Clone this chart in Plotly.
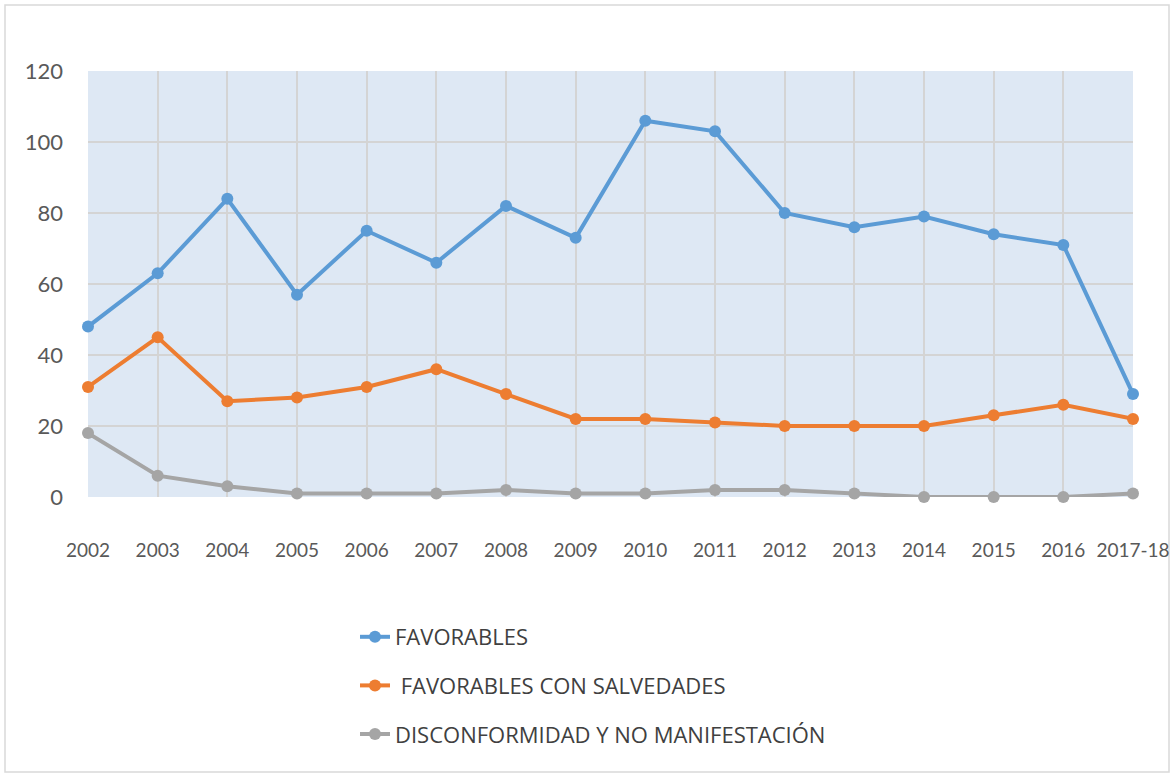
import plotly.graph_objects as go

years = ["2002", "2003", "2004", "2005", "2006", "2007", "2008", "2009",
         "2010", "2011", "2012", "2013", "2014", "2015", "2016", "2017-18"]
favorables = [48, 63, 84, 57, 75, 66, 82, 73, 106, 103, 80, 76, 79, 74, 71, 29]
con_salvedades = [31, 45, 27, 28, 31, 36, 29, 22, 22, 21, 20, 20, 20, 23, 26, 22]
disconformidad = [18, 6, 3, 1, 1, 1, 2, 1, 1, 2, 2, 1, 0, 0, 0, 1]

series_names = ["FAVORABLES", " FAVORABLES CON SALVEDADES", "DISCONFORMIDAD Y NO MANIFESTACIÓN"]
series_values = [favorables, con_salvedades, disconformidad]
series_colors = ["#5B9BD5", "#ED7D31", "#A5A5A5"]
y_ticks = [0, 20, 40, 60, 80, 100, 120]

W, H = 1171, 773
ml, mr, mt, mb = 88, 38, 71, 276

fig = go.Figure()
for i, (name, vals, col) in enumerate(zip(series_names, series_values, series_colors)):
    fig.add_trace(go.Scatter(
        x=years, y=vals, name=name, mode="lines+markers",
        line=dict(color=col, width=4),
        marker=dict(color=col, size=12),
        legendgroup=f"g{i}",
        cliponaxis=False,
    ))

pw = W - ml - mr
ph = H - mt - mb
def px_x(p):
    return (p - ml) / pw
def px_y(p):
    return (H - mb - p) / ph

fig.add_shape(type="rect", xref="paper", yref="paper",
              x0=px_x(5), x1=px_x(1169), y0=px_y(772), y1=px_y(5),
              line=dict(color="#D9D9D9", width=1.5), fillcolor="rgba(0,0,0,0)",
              layer="below")

fig.update_layout(
    width=W, height=H,
    margin=dict(l=ml, r=mr, t=mt, b=mb, autoexpand=False),
    paper_bgcolor="white",
    plot_bgcolor="#DEE8F4",
    font=dict(family="Lato, 'Open Sans', sans-serif", color="#595959"),
    showlegend=True,
    legend=dict(
        orientation="v", x=px_x(355), y=px_y(616), xanchor="left", yanchor="top",
        font=dict(size=22, color="#404040", family="'Open Sans', Lato, sans-serif"),
        tracegroupgap=17,
        bgcolor="rgba(0,0,0,0)",
    ),
    xaxis=dict(
        type="category", range=[0, len(years) - 1],
        showgrid=True, gridcolor="#D4D4D4", gridwidth=1.5,
        showline=False, zeroline=False, ticks="",
        tickfont=dict(size=19, color="#595959"),
        ticklabelstandoff=40, automargin=False,
    ),
    yaxis=dict(
        range=[0, 120], tickvals=y_ticks,
        showgrid=True, gridcolor="#D4D4D4", gridwidth=1.5,
        zeroline=False, showline=False, ticks="",
        tickfont=dict(size=22, color="#595959"),
        ticklabelstandoff=24, automargin=False,
    ),
)

fig.write_html(
    "out.html",
    config={"displayModeBar": False, "responsive": False},
    post_script="document.body.style.margin='0';document.body.style.overflow='hidden';",
)
